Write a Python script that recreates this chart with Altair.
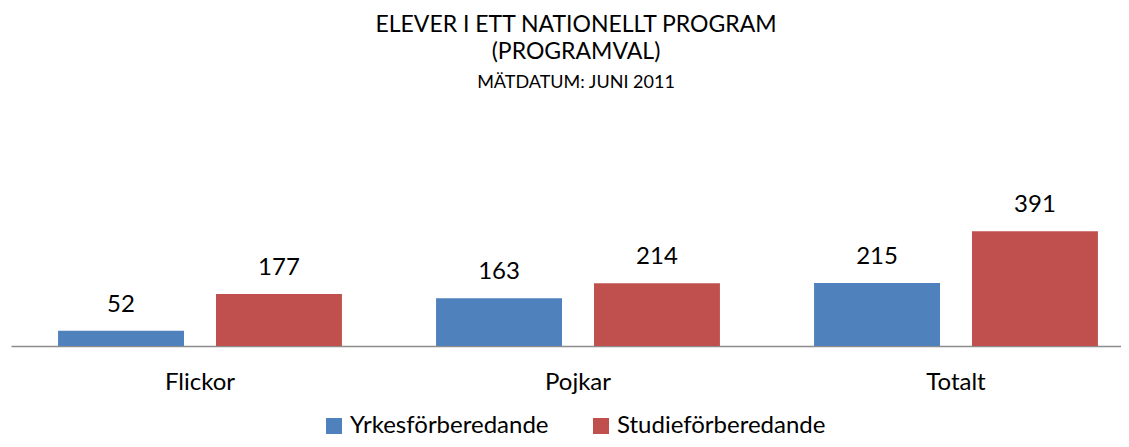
import altair as alt
import pandas as pd

categories = ["Flickor", "Pojkar", "Totalt"]
series = ["Yrkesförberedande", "Studieförberedande"]
yrkes = [52, 163, 215]
studie = [177, 214, 391]
colors = ["#4F81BD", "#C0504D"]

rows = []
for i, c in enumerate(categories):
    rows.append({"kat": c, "serie": series[0], "antal": yrkes[i]})
    rows.append({"kat": c, "serie": series[1], "antal": studie[i]})
df = pd.DataFrame(rows)

FONT = "Lato"

x = alt.X(
    "kat:N", sort=categories, title=None,
    scale=alt.Scale(range=[0, 1134], paddingInner=0.249, paddingOuter=0.1245),
    axis=alt.Axis(labelAngle=0, ticks=False, labelPadding=43, labelBaseline="alphabetic",
                  labelFont=FONT, labelFontSize=24, labelColor="#000000",
                  domainColor="#8c8c8c", domainWidth=1.5, grid=False),
)
xo = alt.XOffset("serie:N", sort=series, scale=alt.Scale(paddingInner=0.2025, paddingOuter=0))
y = alt.Y("antal:Q", scale=alt.Scale(domain=[0, 450]), axis=None)

base = alt.Chart(df).encode(x=x, xOffset=xo, y=y)

bars = base.mark_bar().encode(
    color=alt.Color(
        "serie:N", sort=series,
        scale=alt.Scale(domain=series, range=colors),
        legend=alt.Legend(orient="none", legendX=311, legendY=200, direction="horizontal",
                          title=None, symbolType="square", symbolSize=256, symbolStrokeWidth=0,
                          labelFont=FONT, labelFontSize=24, labelColor="#000000", labelLimit=400,
                          columnPadding=40, labelOffset=4),
    )
)
text = base.mark_text(dy=-19, baseline="alphabetic", font=FONT, fontSize=24, color="#000000").encode(
    text="antal:Q"
)

chart = (
    alt.layer(bars, text)
    .properties(
        width=1110, height=132,
        title=alt.TitleParams(
            text=["ELEVER I ETT NATIONELLT PROGRAM", "(PROGRAMVAL)"],
            subtitle="MÄTDATUM: JUNI 2011",
            font=FONT, fontSize=23, fontWeight="normal", lineHeight=27, color="#000000",
            subtitleFont=FONT, subtitleFontSize=18, subtitleColor="#000000", subtitlePadding=10,
            anchor="middle", dx=10, offset=101,
        ),
        autosize=alt.AutoSizeParams(type="none"),
        padding={"left": 3, "top": 206, "right": 0, "bottom": 93},
    )
    .configure_view(stroke=None)
)

chart.save("out.html", embed_options={"renderer": "svg", "actions": False})
